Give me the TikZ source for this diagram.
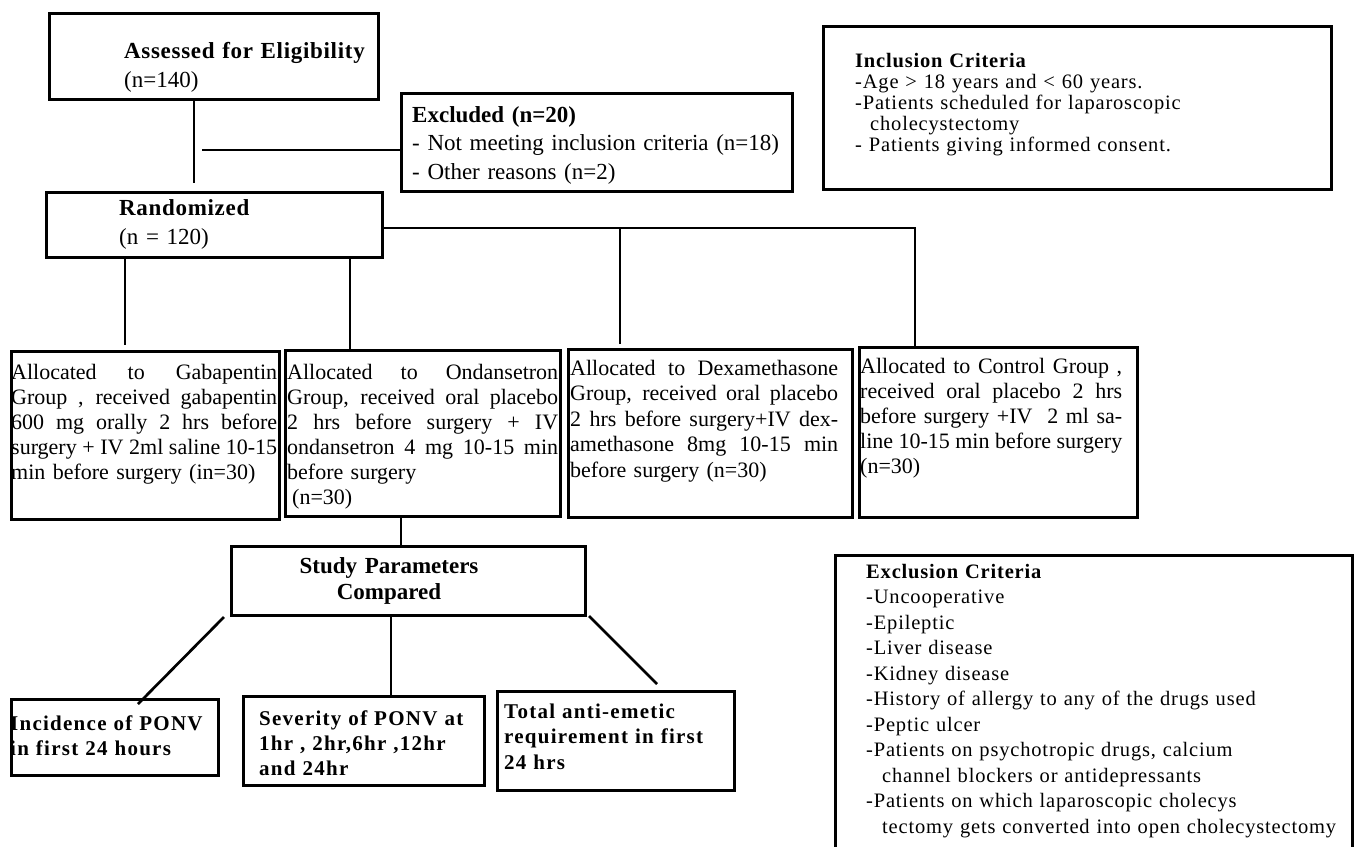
\documentclass[tikz,border=0pt]{standalone}
\usepackage{fontspec}
\setmainfont{Liberation Serif}
\newfontfamily\spcfont[LetterSpace=4]{Liberation Serif}
\newfontfamily\botspc[LetterSpace=6]{Liberation Serif}
\newfontfamily\hdfont[LetterSpace=3]{Liberation Serif}
\newcommand\jl[2]{\makebox[#1][s]{\spaceskip=0pt\xspaceskip=0pt #2}}
\begin{document}
\begin{tikzpicture}[x=1pt,y=-1pt,
  conn/.style={line width=2.7pt},
  boxst/.style={draw, line width=2.7pt, inner sep=0pt, anchor=north west},
  txt/.style={inner sep=0pt, anchor=base west, align=left},
  grpfont/.style={font=\fontsize{22}{25}\selectfont},
  critfont/.style={font=\spcfont\fontsize{20.5}{#1}\selectfont},
  botfont/.style={font=\botspc\bfseries\fontsize{21}{#1}\selectfont}]
\useasboundingbox (0,0) rectangle (1354,846);

% boxes
\node[boxst, minimum width=329pt, minimum height=86pt] (assess) at (48,12) {};
\node[boxst, minimum width=391pt, minimum height=98pt] (excl) at (400,92) {};
\node[boxst, minimum width=336pt, minimum height=65pt] (rand) at (45,191) {};
\node[boxst, minimum width=508pt, minimum height=163pt] (incl) at (822,25) {};
\node[boxst, minimum width=268pt, minimum height=168pt] (gab) at (10,350) {};
\node[boxst, minimum width=275pt, minimum height=166pt] (ond) at (284,349) {};
\node[boxst, minimum width=284pt, minimum height=168pt] (dex) at (567,348) {};
\node[boxst, minimum width=278pt, minimum height=170pt] (ctl) at (858,346) {};
\node[boxst, minimum width=354pt, minimum height=69pt] (study) at (230,545) {};
\node[boxst, minimum width=207pt, minimum height=76pt] (inc) at (10,698) {};
\node[boxst, minimum width=241pt, minimum height=89pt] (sev) at (242,695) {};
\node[boxst, minimum width=237pt, minimum height=99pt] (tot) at (496,690) {};
\node[boxst, minimum width=517pt, minimum height=330pt] (exc) at (834,554) {};

% texts
\node[txt, font=\fontsize{23}{29}\selectfont, text width=300pt] (assessT) at (124,58)
  {{\hdfont\bfseries Assessed for Eligibility}\\(n=140)};
\node[txt, font=\fontsize{23}{28.5}\selectfont, text width=380pt] (exclT) at (412,122)
  {\textbf{Excluded (n=20)}\\- Not meeting inclusion criteria (n=18)\\- Other reasons (n=2)};
\node[txt, font=\fontsize{23}{29.5}\selectfont, text width=250pt] (randT) at (119,215)
  {{\hdfont\bfseries Randomized}\\(n = 120)};
\node[txt, critfont=21.2, text width=470pt] (inclT) at (855,67)
  {\textbf{Inclusion Criteria}\\-Age > 18 years and < 60 years.\\-Patients scheduled for laparoscopic\\\hspace*{15pt}cholecystectomy\\- Patients giving informed consent.};

\node[txt, grpfont, text width=266pt] (gabT) at (11,379)
  {\jl{266pt}{Allocated to Gabapentin}\\
   \jl{266pt}{Group , received gabapentin}\\
   \jl{266pt}{600 mg orally 2 hrs before}\\
   \jl{266pt}{surgery + IV 2ml saline 10-15}\\
   min before surgery (in=30)};
\node[txt, grpfont, text width=271pt] (ondT) at (287,379)
  {\jl{271pt}{Allocated to Ondansetron}\\
   \jl{271pt}{Group, received oral placebo}\\
   \jl{271pt}{2 hrs before surgery + IV}\\
   \jl{271pt}{ondansetron 4 mg 10-15 min}\\
   before surgery\\
   \hspace*{5pt}(n=30)};
\node[txt, font=\fontsize{22}{25.5}\selectfont, text width=268pt] (dexT) at (570,375)
  {\jl{268pt}{Allocated to Dexamethasone}\\
   \jl{268pt}{Group, received oral placebo}\\
   \jl{268pt}{2 hrs before surgery+IV dex-}\\
   \jl{268pt}{amethasone 8mg 10-15 min}\\
   before surgery (n=30)};
\node[txt, grpfont, text width=262pt] (ctlT) at (860,373)
  {\jl{262pt}{Allocated to Control Group ,}\\
   \jl{262pt}{received oral placebo 2 hrs}\\
   \jl{262pt}{before surgery +IV\ \ 2 ml sa-}\\
   \jl{262pt}{line 10-15 min before surgery}\\
   (n=30)};

\node[inner sep=0pt, anchor=base, align=center, text width=300pt,
  font=\bfseries\fontsize{23}{26}\selectfont] (studyT) at (389,573)
  {Study Parameters\\Compared};

\node[txt, botfont=25, text width=220pt] (incT) at (10,730)
  {Incidence of PONV\\in first 24 hours};
\node[txt, botfont=25, text width=230pt] (sevT) at (259,725)
  {Severity of PONV at\\1hr , 2hr,6hr ,12hr\\and 24hr};
\node[txt, botfont=25.5, text width=230pt] (totT) at (504,718)
  {Total anti-emetic\\requirement in first\\24 hrs};

\node[txt, critfont=25.5, text width=520pt] (excT) at (866,578)
  {\textbf{Exclusion Criteria}\\-Uncooperative\\-Epileptic\\-Liver disease\\-Kidney disease\\
   -History of allergy to any of the drugs used\\-Peptic ulcer\\
   -Patients on psychotropic drugs, calcium\\\hspace*{16pt}channel blockers or antidepressants\\
   -Patients on which laparoscopic cholecys\\\hspace*{16pt}tectomy gets converted into open cholecystectomy};

% connector coordinates
\coordinate (aBot) at (194,183);
\coordinate (exStart) at (202,150);
\coordinate (hbar) at (915,228);
\coordinate (g1) at (125,345);
\coordinate (o1) at (350,0);
\coordinate (d1) at (620,344);
\coordinate (s1) at (401,0);
\coordinate (m1) at (391,0);
\coordinate (L1) at (224,617);
\coordinate (L2) at (138,704);
\coordinate (R1) at (589,616);
\coordinate (R2) at (657,684);

% connectors
\draw[conn] (aBot |- assess.south) -- (aBot);
\draw[conn] (exStart) -- (exStart -| excl.west);
\draw[conn] (hbar -| rand.east) -- (hbar) -- (hbar |- ctl.north);
\draw[conn] (g1 |- rand.south) -- (g1);
\draw[conn] (o1 |- rand.south) -- (o1 |- ond.north);
\draw[conn] (d1 |- hbar) -- (d1);
\draw[conn] (s1 |- ond.south) -- (s1 |- study.north);
\draw[conn] (L1) -- (L2);
\draw[conn] (m1 |- study.south) -- (m1 |- sev.north);
\draw[conn] (R1) -- (R2);
\end{tikzpicture}
\end{document}
